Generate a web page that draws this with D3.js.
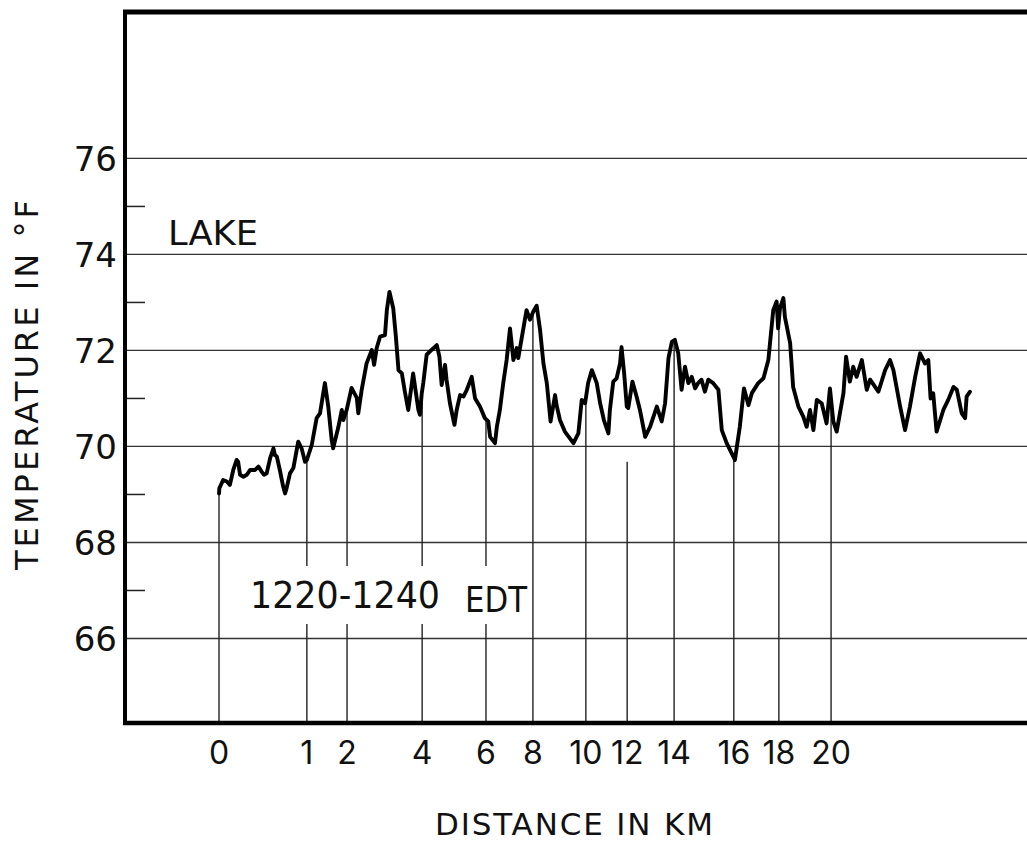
<!DOCTYPE html>
<html>
<head>
<meta charset="utf-8">
<script src="https://cdn.jsdelivr.net/npm/d3@7"></script>
<style>
  body { margin: 0; background: #fff; }
  svg { display: block; }
  text { font-family: "DejaVu Sans", sans-serif; fill: #111; }
</style>
</head>
<body>
<svg id="chart" width="1027" height="841"></svg>
<script>
// Traverse record: minutes elapsed after 12:20 EDT and air temperature (°F)
const timeMin = [
  0.00, 0.01, 0.11, 0.21, 0.29, 0.38, 0.47, 0.51, 0.56, 0.65, 0.74, 0.83, 0.96, 1.05, 1.14, 1.20,
  1.27, 1.36, 1.45, 1.49, 1.54, 1.62, 1.71, 1.76, 1.80, 1.89, 1.98, 2.11, 2.20, 2.29, 2.34, 2.47,
  2.60, 2.69, 2.82, 2.91, 3.00, 3.04, 3.18, 3.27, 3.31, 3.40, 3.53, 3.67, 3.71, 3.80, 3.93, 4.07,
  4.13, 4.20, 4.29, 4.42, 4.47, 4.54, 4.64, 4.71, 4.78, 4.87, 4.95, 5.04, 5.17, 5.31, 5.35, 5.40,
  5.44, 5.53, 5.66, 5.80, 5.87, 5.93, 6.02, 6.06, 6.15, 6.27, 6.33, 6.42, 6.51, 6.60, 6.73, 6.82,
  6.95, 7.08, 7.17, 7.22, 7.35, 7.40, 7.48, 7.57, 7.66, 7.75, 7.84, 7.93, 7.97, 8.06, 8.19, 8.28,
  8.37, 8.46, 8.55, 8.64, 8.73, 8.83, 8.95, 8.99, 9.08, 9.21, 9.44, 9.57, 9.66, 9.75, 9.83, 9.93,
  10.06, 10.15, 10.25, 10.37, 10.41, 10.50, 10.59, 10.68, 10.72, 10.79, 10.86, 10.90, 11.01, 11.12,
  11.21, 11.35, 11.48, 11.66, 11.79, 11.88, 11.97, 12.06, 12.14, 12.23, 12.32, 12.41, 12.50, 12.59,
  12.68, 12.76, 12.85, 12.94, 13.03, 13.16, 13.30, 13.39, 13.52, 13.74, 13.87, 13.98, 14.10, 14.19,
  14.36, 14.50, 14.63, 14.76, 14.85, 14.89, 14.94, 15.03, 15.07, 15.21, 15.29, 15.43, 15.56, 15.65,
  15.74, 15.83, 15.92, 16.05, 16.18, 16.27, 16.36, 16.45, 16.63, 16.70, 16.80, 16.89, 16.98, 17.12,
  17.25, 17.34, 17.56, 17.74, 17.87, 17.96, 18.14, 18.27, 18.40, 18.54, 18.67, 18.80, 18.89, 18.95,
  19.02, 19.11, 19.29, 19.42, 19.56, 19.65, 19.78, 19.87, 19.91, 20.00
];
const tempF = [
  69.01, 69.12, 69.29, 69.26, 69.19, 69.50, 69.71, 69.67, 69.40, 69.36, 69.40, 69.50, 69.50, 69.57, 69.46, 69.40,
  69.43, 69.74, 69.95, 69.81, 69.78, 69.50, 69.15, 69.01, 69.12, 69.43, 69.54, 70.09, 69.95, 69.67, 69.71, 70.02,
  70.58, 70.68, 71.31, 70.82, 70.13, 69.95, 70.40, 70.75, 70.54, 70.75, 71.21, 71.00, 70.68, 71.17, 71.72, 72.00,
  71.69, 72.04, 72.28, 72.31, 72.83, 73.21, 72.87, 72.28, 71.58, 71.51, 71.13, 70.75, 71.51, 70.75, 70.65, 71.10,
  71.31, 71.90, 72.00, 72.10, 71.86, 71.27, 71.69, 71.38, 70.89, 70.44, 70.75, 71.06, 71.03, 71.17, 71.44, 70.99,
  70.82, 70.58, 70.51, 70.19, 70.06, 70.40, 70.75, 71.31, 71.79, 72.45, 71.79, 72.04, 71.83, 72.24, 72.83, 72.63,
  72.80, 72.92, 72.42, 71.72, 71.31, 70.51, 71.06, 70.85, 70.54, 70.30, 70.06, 70.26, 70.96, 70.89, 71.31, 71.58,
  71.31, 70.89, 70.54, 70.26, 70.75, 71.34, 71.41, 71.72, 72.06, 71.51, 70.82, 70.79, 71.34, 71.03,
  70.75, 70.19, 70.40, 70.82, 70.51, 70.89, 71.83, 72.17, 72.21, 71.93, 71.17, 71.65, 71.31, 71.44,
  71.20, 71.31, 71.38, 71.13, 71.38, 71.31, 71.17, 70.33, 70.06, 69.71, 70.40, 71.20, 70.85, 71.10,
  71.31, 71.41, 71.79, 72.83, 73.01, 72.45, 72.87, 73.08, 72.69, 72.14, 71.23, 70.82, 70.61, 70.40,
  70.75, 70.33, 70.96, 70.89, 70.47, 71.20, 70.51, 70.30, 71.10, 71.86, 71.34, 71.65, 71.44, 71.79,
  71.17, 71.38, 71.13, 71.58, 71.79, 71.58, 70.82, 70.33, 70.82, 71.44, 71.93, 71.72, 71.79, 70.99,
  71.10, 70.30, 70.75, 70.96, 71.23, 71.17, 70.68, 70.58, 71.03, 71.13
];

// Distance marks along the traverse and the minute at which each was passed
const distanceKm = [0, 1, 2, 4, 6, 8, 10, 12, 14, 16, 18, 20];
const distanceTime = [0, 2.34, 3.41, 5.41, 7.11, 8.36, 9.77, 10.87, 12.12, 13.71, 14.91, 16.30];
// marker lines that stop short of the trace: km -> upper end (°F)
const markerTopKm = [12];
const markerTopF = [69.67];

const majorTicks = [66, 68, 70, 72, 74, 76];
const minorTicks = [67, 69, 71, 73, 75];

const svg = d3.select("#chart");
const W = 1027;
const frameLeft = 125;
const frameTop = 12;
const frameBottom = 722;

const x = d3.scaleLinear().domain([0, 20]).range([219, 970]);
const y = d3.scaleLinear().domain([64.25, 79.04]).range([frameBottom, frameTop]);

const series = timeMin.map((t, i) => ({ t, v: tempF[i] }));
const bisect = d3.bisector(d => d.t).left;
function tempAt(t) {
  const i = bisect(series, t);
  if (i <= 0) return series[0].v;
  if (i >= series.length) return series[series.length - 1].v;
  const a = series[i - 1], b = series[i];
  return a.v + (b.v - a.v) * (t - a.t) / (b.t - a.t);
}

// horizontal grid at the labelled temperatures
svg.append("g")
  .attr("transform", `translate(${frameLeft},0)`)
  .call(d3.axisRight(y).tickValues(majorTicks).tickSize(W - frameLeft).tickFormat(""))
  .call(g => g.select(".domain").remove())
  .call(g => g.selectAll("line").attr("stroke", "#333").attr("stroke-width", 1.3));

// short minor ticks at odd degrees
svg.append("g")
  .attr("transform", `translate(${frameLeft},0)`)
  .call(d3.axisRight(y).tickValues(minorTicks).tickSize(20).tickFormat(""))
  .call(g => g.select(".domain").remove())
  .call(g => g.selectAll("line").attr("stroke", "#222").attr("stroke-width", 1.5));

// temperature labels
svg.append("g")
  .attr("transform", `translate(${frameLeft},0)`)
  .call(d3.axisLeft(y).tickValues(majorTicks).tickSize(0).tickPadding(8).tickFormat(d3.format("d")))
  .call(g => g.select(".domain").remove())
  .call(g => g.selectAll("text")
    .style("font-family", '"DejaVu Sans", sans-serif')
    .style("font-size", "34px")
    .attr("fill", "#111")
    .attr("dy", "0.36em"));

// vertical distance markers from the trace down to the base line
const markers = distanceKm.map((km, i) => {
  const k = markerTopKm.indexOf(km);
  return { km, t: distanceTime[i], top: k >= 0 ? markerTopF[k] : tempAt(distanceTime[i]) };
});
svg.append("g").selectAll("line")
  .data(markers)
  .join("line")
  .attr("x1", d => x(d.t)).attr("x2", d => x(d.t))
  .attr("y1", d => y(d.top)).attr("y2", frameBottom)
  .attr("stroke", "#222").attr("stroke-width", 1.4);

// period label, on a white patch that interrupts the marker lines
const periodG = svg.append("g");
const periodBg = periodG.append("rect").attr("fill", "#fff");
periodG.append("text").attr("x", 250).attr("y", 608)
  .style("font-size", "37px")
  .attr("textLength", 190).attr("lengthAdjust", "spacingAndGlyphs")
  .text("1220-1240");
periodG.append("text").attr("x", 465).attr("y", 612)
  .style("font-size", "36px")
  .attr("textLength", 62).attr("lengthAdjust", "spacingAndGlyphs")
  .text("EDT");
const bb = periodG.node().getBBox();
periodBg.attr("x", bb.x - 8).attr("y", bb.y - 8)
  .attr("width", bb.width + 8).attr("height", bb.height + 12);

// temperature trace
svg.append("path")
  .datum(series)
  .attr("fill", "none")
  .attr("stroke", "#000")
  .attr("stroke-width", 3.9)
  .attr("stroke-linejoin", "round")
  .attr("stroke-linecap", "round")
  .attr("d", d3.line().x(d => x(d.t)).y(d => y(d.v)));

// frame: left axis, top edge and base line
svg.append("line").attr("x1", frameLeft).attr("x2", frameLeft)
  .attr("y1", frameTop - 2).attr("y2", frameBottom + 2)
  .attr("stroke", "#000").attr("stroke-width", 4);
svg.append("line").attr("x1", frameLeft - 2).attr("x2", W)
  .attr("y1", frameTop).attr("y2", frameTop)
  .attr("stroke", "#000").attr("stroke-width", 5);
svg.append("line").attr("x1", frameLeft - 2).attr("x2", W)
  .attr("y1", frameBottom + 1).attr("y2", frameBottom + 1)
  .attr("stroke", "#000").attr("stroke-width", 4.5);

// distance labels under the marker lines
svg.append("g").selectAll("text")
  .data(markers)
  .join("text")
  .attr("x", d => x(d.t))
  .attr("y", 764)
  .attr("text-anchor", "middle")
  .style("font-family", 'Inter, "DejaVu Sans", sans-serif')
  .style("font-size", "32px")
  .style("font-variant-numeric", "proportional-nums")
  .text(d => d.km);

svg.append("text").attr("x", 168).attr("y", 245)
  .style("font-size", "34px")
  .attr("textLength", 90).attr("lengthAdjust", "spacingAndGlyphs")
  .text("LAKE");

svg.append("text").attr("x", 435).attr("y", 835)
  .style("font-size", "31px")
  .attr("textLength", 278).attr("lengthAdjust", "spacing")
  .text("DISTANCE IN KM");

svg.append("text")
  .attr("transform", "translate(38,570) rotate(-90)")
  .style("font-size", "32px")
  .attr("textLength", 370).attr("lengthAdjust", "spacing")
  .text("TEMPERATURE IN °F");
</script>
</body>
</html>
